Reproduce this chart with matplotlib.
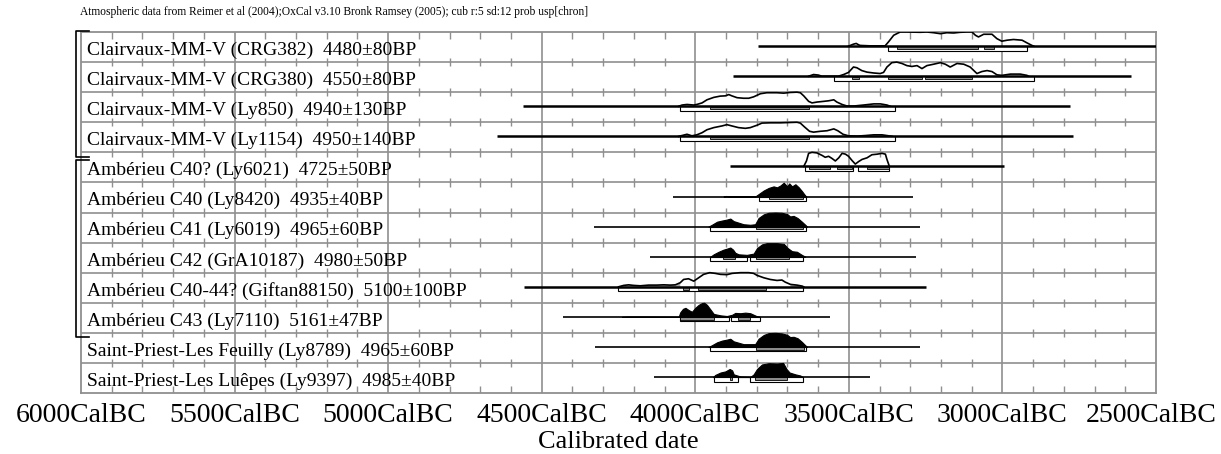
import matplotlib
matplotlib.use("Agg")
import matplotlib.pyplot as plt
import matplotlib.transforms as mtransforms
from matplotlib.patches import Rectangle

plt.rcParams['font.family'] = ['Liberation Serif', 'DejaVu Serif']

# radiocarbon dates, one row each (top to bottom)
sites = ['Clairvaux-MM-V', 'Clairvaux-MM-V', 'Clairvaux-MM-V', 'Clairvaux-MM-V',
         'Ambérieu C40?', 'Ambérieu C40', 'Ambérieu C41', 'Ambérieu C42',
         'Ambérieu C40-44?', 'Ambérieu C43',
         'Saint-Priest-Les Feuilly', 'Saint-Priest-Les Luêpes']
labs = ['CRG382', 'CRG380', 'Ly850', 'Ly1154', 'Ly6021', 'Ly8420', 'Ly6019',
        'GrA10187', 'Giftan88150', 'Ly7110', 'Ly8789', 'Ly9397']
bp = [4480, 4550, 4940, 4950, 4725, 4935, 4965, 4980, 5100, 5161, 4965, 4985]
bp_err = [80, 80, 130, 140, 50, 40, 60, 50, 100, 47, 60, 40]

# extent of the plotted calibration range (cal BC)
span_start = [3797, 3876, 4560, 4645, 3886, 4071, 4329, 4147, 4557, 4430, 4328, 4134]
span_end = [2450, 2580, 2779, 2769, 2995, 3290, 3267, 3280, 3248, 3561, 3269, 3430]

# probability curves (cal BC, relative height)
crg382_yr = [3501, 3485, 3476, 3468, 3463, 3430, 3382, 3371, 3354, 3333, 3311, 3268, 3246,
             3224, 3202, 3181, 3159, 3137, 3116, 3099, 3088, 3078, 3061, 3034, 3018, 3002,
             2985, 2964, 2936, 2920, 2904, 2898]
crg382_p = [0, 0.14, 0.19, 0.09, 0.05, 0.02, 0.02, 0.3, 0.77, 1.0, 1.0, 0.98, 1.0,
            0.95, 0.88, 0.95, 0.93, 0.98, 1.0, 1.0, 0.77, 0.65, 0.84, 0.84, 0.53, 0.35,
            0.42, 0.47, 0.42, 0.23, 0.05, 0]

crg380_yr = [3631, 3615, 3599, 3588, 3534, 3517, 3501, 3485, 3474, 3458, 3441, 3420, 3398,
             3387, 3376, 3360, 3344, 3327, 3311, 3295, 3278, 3262, 3246, 3224, 3202, 3186,
             3170, 3148, 3126, 3105, 3083, 3067, 3050, 3034, 3018, 3002, 2974, 2942, 2920,
             2915]
crg380_p = [0, 0.12, 0.08, 0, 0, 0.12, 0.27, 0.65, 0.6, 0.4, 0.29, 0.23, 0.19,
            0.27, 0.65, 0.96, 1.0, 0.9, 0.75, 0.69, 0.75, 0.54, 0.75, 0.85, 0.96, 0.85,
            0.65, 0.9, 0.85, 0.65, 0.19, 0.33, 0.4, 0.33, 0.1, 0.06, 0.15, 0.15, 0.06,
            0]

ly850_yr = [4054, 4043, 4027, 4005, 3995, 3978, 3962, 3940, 3919, 3902, 3891, 3881, 3864,
            3843, 3826, 3810, 3788, 3767, 3734, 3712, 3691, 3669, 3658, 3647, 3631, 3620,
            3604, 3582, 3566, 3549, 3539, 3522, 3506, 3484, 3452, 3419, 3397, 3376, 3365]
ly850_p = [0, 0.09, 0.13, 0.09, 0.13, 0.24, 0.46, 0.63, 0.72, 0.74, 0.83, 0.74, 0.61,
           0.57, 0.57, 0.67, 0.89, 0.96, 0.96, 0.93, 0.98, 1.0, 0.96, 0.74, 0.35, 0.24,
           0.3, 0.35, 0.39, 0.46, 0.3, 0.13, 0.02, 0.02, 0.09, 0.17, 0.17, 0.09, 0]

ly1154_yr = [4054, 4038, 4027, 4011, 3995, 3978, 3962, 3940, 3913, 3897, 3881, 3859, 3837,
             3821, 3799, 3783, 3756, 3723, 3696, 3669, 3658, 3645, 3628, 3615, 3593, 3571,
             3549, 3536, 3519, 3501, 3473, 3446, 3419, 3392, 3370, 3359]
ly1154_p = [0, 0.09, 0.15, 0.04, 0.11, 0.26, 0.47, 0.62, 0.74, 0.83, 0.74, 0.62, 0.57,
            0.62, 0.79, 0.94, 0.96, 0.96, 0.98, 1.0, 0.94, 0.68, 0.36, 0.3, 0.36, 0.4,
            0.53, 0.4, 0.15, 0.04, 0.02, 0.06, 0.11, 0.11, 0.04, 0]

ly6021_yr = [3647, 3638, 3631, 3620, 3604, 3587, 3577, 3566, 3555, 3544, 3533, 3522, 3511,
             3501, 3490, 3479, 3468, 3457, 3441, 3425, 3408, 3392, 3381, 3376, 3368]
ly6021_p = [0, 0.39, 0.93, 1.0, 0.96, 0.78, 0.65, 0.72, 0.57, 0.39, 0.61, 0.93, 0.87,
            0.72, 0.43, 0.17, 0.35, 0.5, 0.61, 0.83, 0.87, 0.93, 0.87, 0.5, 0]

ly8420_yr = [3908, 3900, 3881, 3805, 3794, 3777, 3761, 3745, 3734, 3723, 3712, 3701, 3694,
             3685, 3674, 3663, 3653, 3642, 3638]
ly8420_p = [0, 0.04, 0, 0, 0.17, 0.43, 0.61, 0.72, 0.65, 0.78, 0.98, 0.72, 0.93,
            0.72, 0.87, 0.65, 0.39, 0.07, 0]

ly6019_yr = [3957, 3946, 3929, 3913, 3897, 3886, 3875, 3859, 3843, 3821, 3805, 3794, 3777,
             3761, 3739, 3718, 3701, 3691, 3680, 3667, 3653, 3642, 3636]
ly6019_p = [0, 0.13, 0.35, 0.43, 0.5, 0.57, 0.39, 0.28, 0.17, 0.13, 0.17, 0.61, 0.87,
            0.98, 1.0, 0.98, 0.89, 0.72, 0.76, 0.61, 0.35, 0.13, 0]

gra10187_yr = [3951, 3940, 3924, 3908, 3897, 3886, 3877, 3870, 3859, 3832, 3810, 3799, 3783,
               3767, 3734, 3712, 3699, 3685, 3669, 3653, 3642]
gra10187_p = [0, 0.17, 0.35, 0.5, 0.57, 0.65, 0.5, 0.28, 0.17, 0.13, 0.22, 0.61, 0.87,
              0.96, 0.96, 0.91, 0.61, 0.39, 0.35, 0.13, 0]

giftan_yr = [4250, 4233, 4217, 4201, 4179, 4152, 4125, 4103, 4081, 4065, 4049, 4038, 4022,
             4005, 3989, 3973, 3953, 3935, 3918, 3897, 3880, 3853, 3826, 3810, 3799, 3777,
             3756, 3734, 3718, 3707, 3690, 3669, 3652, 3647]
giftan_p = [0, 0.1, 0.14, 0.1, 0.07, 0.12, 0.12, 0.14, 0.12, 0.14, 0.29, 0.52, 0.57,
            0.4, 0.64, 0.88, 1.0, 0.95, 0.88, 0.86, 0.95, 1.0, 1.0, 0.95, 0.81, 0.64,
            0.52, 0.45, 0.48, 0.33, 0.17, 0.12, 0.05, 0]

ly7110_yr = [4239, 4222, 4179, 4054, 4049, 4040, 4032, 4022, 4011, 4000, 3989, 3978, 3971,
             3962, 3951, 3940, 3918, 3897, 3880, 3870, 3853, 3837, 3821, 3810, 3799, 3790]
ly7110_p = [0, 0.02, 0.02, 0, 0.32, 0.57, 0.64, 0.49, 0.36, 0.64, 0.85, 0.98, 1.0,
            0.85, 0.53, 0.21, 0.11, 0.06, 0.15, 0.28, 0.26, 0.3, 0.26, 0.15, 0.04, 0]

ly8789_yr = [3957, 3946, 3929, 3913, 3897, 3886, 3875, 3859, 3843, 3821, 3805, 3794, 3777,
             3761, 3739, 3718, 3701, 3691, 3680, 3667, 3653, 3642, 3636]
ly8789_p = [0, 0.12, 0.33, 0.45, 0.52, 0.58, 0.4, 0.3, 0.2, 0.2, 0.2, 0.58, 0.85,
            0.98, 1.0, 0.96, 0.86, 0.7, 0.72, 0.62, 0.36, 0.12, 0]

ly9397_yr = [3942, 3935, 3918, 3902, 3888, 3880, 3875, 3853, 3821, 3810, 3799, 3783, 3761,
             3734, 3714, 3703, 3693, 3674, 3658, 3650]
ly9397_p = [0, 0.15, 0.32, 0.4, 0.57, 0.47, 0.19, 0.04, 0, 0.19, 0.57, 0.89, 0.98,
            0.96, 1.0, 0.57, 0.32, 0.19, 0.11, 0]

curve_yr = [crg382_yr, crg380_yr, ly850_yr, ly1154_yr, ly6021_yr, ly8420_yr,
            ly6019_yr, gra10187_yr, giftan_yr, ly7110_yr, ly8789_yr, ly9397_yr]
curve_p = [crg382_p, crg380_p, ly850_p, ly1154_p, ly6021_p, ly8420_p,
           ly6019_p, gra10187_p, giftan_p, ly7110_p, ly8789_p, ly9397_p]
filled = [False, False, False, False, False, True, True, True, False, True, True, True]

# 68.2% and 95.4% ranges (cal BC)
range68 = [[(3344, 3078), (3061, 3029)],
           [(3490, 3468), (3371, 3262), (3251, 3099)],
           [(3951, 3629)],
           [(3951, 3629)],
           [(3631, 3560), (3539, 3490), (3441, 3370)],
           [(3761, 3650)],
           [(3802, 3650)],
           [(3911, 3872), (3802, 3694)],
           [(4040, 4022), (3991, 3770)],
           [(4051, 3940), (3861, 3821)],
           [(3801, 3647)],
           [(3886, 3880), (3804, 3701)]]
range95 = [[(3371, 2920)],
           [(3550, 2898)],
           [(4051, 3349)],
           [(4051, 3349)],
           [(3642, 3488), (3470, 3368)],
           [(3792, 3640)],
           [(3951, 3639)],
           [(3951, 3832), (3821, 3650)],
           [(4253, 3649)],
           [(4051, 3891), (3883, 3790)],
           [(3951, 3638)],
           [(3940, 3861), (3823, 3650)]]

# groups shown with a bracket on the left (row positions)
groups = [(-0.03, 4.15), (4.26, 10.14)]

GRID = '#8f8f8f'
W, H = 1221, 454
n = len(sites)

fig = plt.figure(figsize=(W / 100, H / 100), dpi=100)
ax = fig.add_axes([81 / W, 1 - 393 / H, 1075 / W, 361 / H])
ax.set_xlim(6000, 2500)
ax.set_ylim(n, 0)

# grid: 500-year lines, row lines, 100-year ticks
for yr in range(5500, 2500, -500):
    ax.axvline(yr, color=GRID, lw=1.2, zorder=1)
for r in range(1, n):
    ax.axhline(r, color=GRID, lw=1.2, zorder=1)
minor = [y for y in range(5900, 2500, -100) if y % 500]
ax.vlines(minor, 0, 0.22, color=GRID, lw=1.0, zorder=1)
for r in range(1, n):
    ax.vlines(minor, r - 0.14, r + 0.14, color=GRID, lw=1.0, zorder=1)
ax.vlines(minor, n - 0.22, n, color=GRID, lw=1.0, zorder=1)
for s in ax.spines.values():
    s.set_color(GRID)
    s.set_linewidth(1.3)

base_off, peak = 0.47, 0.47
for i in range(n):
    base = i + base_off
    lw = 1.8 if i < 5 or i == 8 else 1.2
    ax.plot([span_start[i], span_end[i]], [base, base], color='k', lw=lw,
            solid_capstyle='butt', zorder=4)
    yr = curve_yr[i]
    top = [base - peak * p for p in curve_p[i]]
    if filled[i]:
        ax.fill_between(yr, base, top, color='k', lw=0.8, zorder=3)
    else:
        if i == 8:
            tail = [(y > 4045 or y < 3700) for y in yr]
            ax.fill_between(yr, base, top, where=tail, color='#a8a8a8', lw=0, zorder=2)
        ax.plot(yr, top, color='k', lw=1.2, zorder=3)
    for a, b in range95[i]:
        ax.add_patch(Rectangle((a, base), b - a, 0.15, facecolor='white',
                               edgecolor='k', lw=0.8, zorder=3.5))
    for a, b in range68[i]:
        ax.add_patch(Rectangle((a, base + 0.01), b - a, 0.08, facecolor='#8a8a8a',
                               edgecolor='k', lw=0.6, zorder=3.6))

blend = mtransforms.blended_transform_factory(ax.transAxes, ax.transData)
for i in range(n):
    label = f"{sites[i]} ({labs[i]})  {bp[i]}\u00b1{bp_err[i]}BP"
    ax.text(0.0056, i + 0.76, label, transform=blend, fontsize=14,
            va='baseline', ha='left', zorder=6)

for top, bot in groups:
    ax.plot([0.0074, -0.0051, -0.0051, 0.0074], [top, top, bot, bot],
            transform=blend, clip_on=False, color='k', lw=1.2, zorder=7)

ticks = list(range(6000, 2499, -500))
ax.set_xticks(ticks)
ax.set_xticklabels([f"{t}CalBC" for t in ticks])
ax.tick_params(axis='x', length=0, pad=7, labelsize=20)
ax.set_yticks([])
# keep the last label inside the picture
last = ax.get_xticklabels()[-1]
last.set_transform(last.get_transform()
                   + mtransforms.ScaledTranslation(-5 / 100, 0, fig.dpi_scale_trans))
ax.set_xlabel('Calibrated date', fontsize=19, labelpad=2.5)

fig.text(80 / W, 1 - 12 / H,
         'Atmospheric data from Reimer et al (2004);OxCal v3.10 Bronk Ramsey (2005); '
         'cub r:5 sd:12 prob usp[chron]', fontsize=8.3, va='center', ha='left')

fig.savefig('out.png', dpi=100)
